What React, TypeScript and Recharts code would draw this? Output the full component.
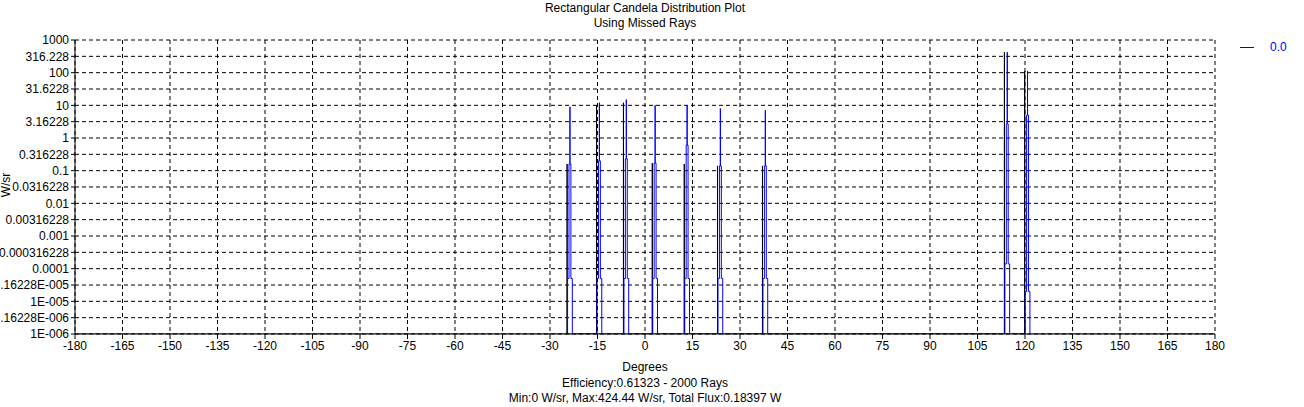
import { CartesianGrid, Line, LineChart, XAxis, YAxis } from "recharts";

const X_TICKS = [-180, -165, -150, -135, -120, -105, -90, -75, -60, -45, -30, -15, 0, 15, 30, 45, 60, 75, 90, 105, 120, 135, 150, 165, 180];
const Y_TICKS = [1e-6, 3.16228e-6, 1e-5, 3.16228e-5, 1e-4, 3.16228e-4, 1e-3, 3.16228e-3, 0.01, 0.0316228, 0.1, 0.316228, 1, 3.16228, 10, 31.6228, 100, 316.228, 1000];
const Y_LABELS = ["1E-006", "3.16228E-006", "1E-005", "3.16228E-005", "0.0001", "0.000316228", "0.001", "0.00316228", "0.01", "0.0316228", "0.1", "0.316228", "1", "3.16228", "10", "31.6228", "100", "316.228", "1000"];

// blue spikes: centre (deg), peak, shoulder, foot
const centers = [-23.7, -14.4, -5.9, 3.2, 13.3, 23.8, 38, 114.4, 120.8];
const peaks = [9, 12, 15, 10, 10, 8, 7, 424.44, 112];
const mids = [0.16, 0.2, 0.23, 0.17, 0.6, 0.14, 0.14, 2.7, 5];
const lows = [5e-5, 5e-5, 5e-5, 5e-5, 5e-5, 5e-5, 5e-5, 1.4e-4, 2e-5];
// black spikes beside them
const blackPeaks = [0.16, 10, 12, 0.17, 0.16, 0.14, 0.14, 424.44, 112];

const FLOOR = 1e-6;

const blueData: { x: number; y: number }[] = [{ x: -180, y: FLOOR }];
centers.forEach((c, i) => {
  blueData.push(
    { x: c - 0.75, y: FLOOR }, { x: c - 0.75, y: lows[i] }, { x: c - 0.3, y: lows[i] },
    { x: c - 0.3, y: mids[i] }, { x: c, y: mids[i] }, { x: c, y: peaks[i] }, { x: c, y: mids[i] },
    { x: c + 0.3, y: mids[i] }, { x: c + 0.3, y: lows[i] }, { x: c + 0.75, y: lows[i] }, { x: c + 0.75, y: FLOOR },
  );
});
blueData.push({ x: 180, y: FLOOR });

const blackData: { x: number; y: number }[] = [];
centers.forEach((c, i) => {
  const bx = c - 0.9;
  blackData.push({ x: bx, y: FLOOR }, { x: bx, y: blackPeaks[i] }, { x: bx, y: FLOOR });
});

const font = "'Liberation Sans', Arial, sans-serif";

export default function App() {
  return (
    <div style={{ position: "absolute", left: 0, top: 0, width: 1304, height: 407, background: "#fff", fontFamily: font, fontSize: 12, overflow: "hidden" }}>
      <LineChart width={1304} height={407} margin={{ top: 40, right: 89, bottom: 0, left: 0 }} style={{ position: "absolute", left: 0, top: 0 }}>
        <CartesianGrid stroke="#000" strokeDasharray="4 3" />
        <XAxis
          type="number"
          dataKey="x"
          domain={[-180, 180]}
          ticks={X_TICKS}
          interval={0}
          stroke="#000"
          tick={{ fill: "#000", fontSize: 12, fontFamily: font }}
          tickSize={5}
          height={73}
          allowDataOverflow
        />
        <YAxis
          type="number"
          scale="log"
          domain={[1e-6, 1000]}
          ticks={Y_TICKS}
          interval={0}
          allowDataOverflow
          width={75}
          stroke="#000"
          tickSize={4}
          tickMargin={2}
          tick={{ fill: "#000", fontSize: 12, fontFamily: font }}
          tickFormatter={(v: number) => Y_LABELS[Y_TICKS.indexOf(v)] ?? String(v)}
        />
        <Line data={blackData} dataKey="y" stroke="#000" strokeWidth={1} dot={false} isAnimationActive={false} type="linear" />
        <Line data={blueData} dataKey="y" stroke="#0000ff" strokeWidth={1} dot={false} isAnimationActive={false} type="linear" />
      </LineChart>
      <div style={{ position: "absolute", left: 0, width: 1290, top: 1, textAlign: "center", lineHeight: "15px" }}>
        Rectangular Candela Distribution Plot<br />Using Missed Rays
      </div>
      <div style={{ position: "absolute", left: 0, width: 1290, top: 360, textAlign: "center", lineHeight: "15.5px" }}>
        Degrees<br />Efficiency:0.61323 - 2000 Rays<br />Min:0 W/sr, Max:424.44 W/sr, Total Flux:0.18397 W
      </div>
      <div style={{ position: "absolute", left: -6, top: 178, transform: "rotate(-90deg)", background: "transparent" }}>W/sr</div>
      <div style={{ position: "absolute", left: 1240, top: 40, display: "flex", alignItems: "center" }}>
        <span style={{ display: "inline-block", width: 14, height: 0, borderTop: "1px solid #0000ff", marginRight: 16 }} />
        <span style={{ color: "#0000ff" }}>0.0</span>
      </div>
    </div>
  );
}
